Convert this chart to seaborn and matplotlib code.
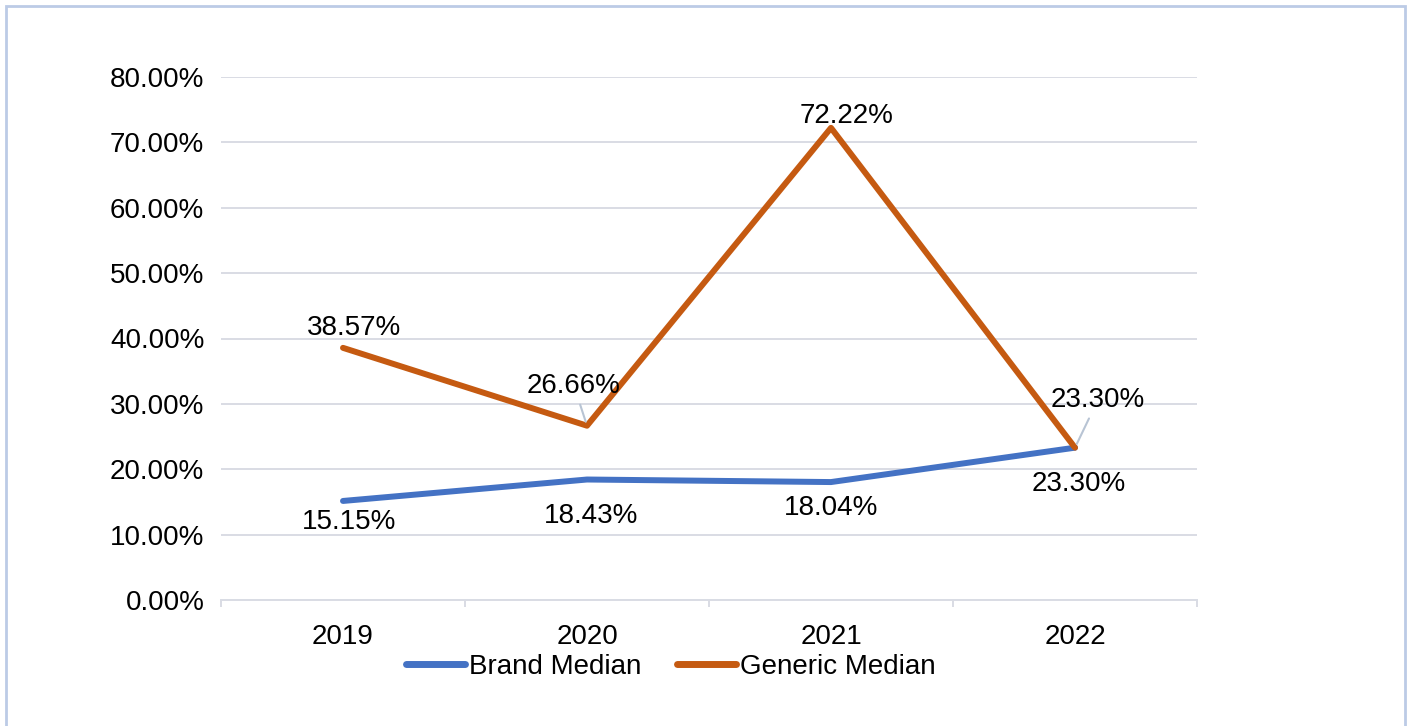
import pandas as pd
import seaborn as sns
import matplotlib.pyplot as plt
from matplotlib.patches import Rectangle
from matplotlib.ticker import FuncFormatter, FixedLocator

# chart values
years = ['2019', '2020', '2021', '2022']
brand_median = [0.1515, 0.1843, 0.1804, 0.2330]
generic_median = [0.3857, 0.2666, 0.7222, 0.2330]

df = pd.DataFrame({
    'Year': years * 2,
    'Value': brand_median + generic_median,
    'Series': ['Brand Median'] * 4 + ['Generic Median'] * 4,
})

sns.set_style('white')
plt.rcParams['font.family'] = ['Liberation Sans', 'DejaVu Sans']
plt.rcParams['text.color'] = 'black'
plt.rcParams['xtick.labelcolor'] = 'black'
plt.rcParams['ytick.labelcolor'] = 'black'

fig = plt.figure(figsize=(14.09, 7.26), dpi=100)
ax = fig.add_axes([221 / 1409, 1 - 600 / 726, 976 / 1409, 523 / 726])

colors = {'Brand Median': '#4472C4', 'Generic Median': '#C55A11'}
sns.lineplot(data=df, x='Year', y='Value', hue='Series', palette=colors,
             linewidth=4.3, sort=False, ax=ax, legend=False,
             solid_capstyle='round', solid_joinstyle='round')

ax.set_xlim(-0.5, 3.5)
ax.set_ylim(0, 0.8)
ax.set_yticks([i / 10 for i in range(9)])
ax.yaxis.set_major_formatter(FuncFormatter(lambda v, _: f'{v * 100:.2f}%'))
ax.set_xlabel('')
ax.set_ylabel('')
ax.grid(axis='y', color='#d9dce4', linewidth=1.4)
ax.set_axisbelow(True)
for s in ['top', 'right', 'left']:
    ax.spines[s].set_visible(False)
ax.spines['bottom'].set_color('#d9dce4')
ax.spines['bottom'].set_linewidth(1.4)
ax.tick_params(axis='y', length=0, pad=12, labelsize=20)
ax.tick_params(axis='x', which='major', length=0, pad=17, labelsize=20)
ax.xaxis.set_minor_locator(FixedLocator([-0.5, 0.5, 1.5, 2.5, 3.5]))
ax.tick_params(axis='x', which='minor', bottom=True, length=5, width=1.4,
               color='#d9dce4', direction='out')

# data labels (offsets in pixels)
brand_off = [(6, -21), (4, -36), (0, -26), (4, -36)]
generic_off = [(11, 20), (-13, 40), (16, 12), (23, 48)]
leader = {1, 3}
for i, (v, off) in enumerate(zip(brand_median, brand_off)):
    ax.annotate(f'{v * 100:.2f}%', (i, v), xytext=off, textcoords='offset pixels',
                ha='center', va='center', fontsize=20)
for i, (v, off) in enumerate(zip(generic_median, generic_off)):
    kw = {}
    if i in leader:
        kw['arrowprops'] = dict(arrowstyle='-', color='#b8c4d4', lw=1.5,
                                shrinkA=2, shrinkB=3)
    ax.annotate(f'{v * 100:.2f}%', (i, v), xytext=off, textcoords='offset pixels',
                ha='center', va='center', fontsize=20, **kw)

handles = [plt.Line2D([], [], color=colors[k], linewidth=5,
                      solid_capstyle='round') for k in colors]
fig.legend(handles, list(colors), loc='center', ncol=2, frameon=False,
           bbox_to_anchor=(671 / 1409, 1 - 667 / 726), fontsize=20,
           handlelength=2.1, handletextpad=0.15, columnspacing=1.3)

# outer chart frame
fig.patches.append(Rectangle((6 / 1409, -0.05), 1399 / 1409, 1.05 - 6 / 726,
                             transform=fig.transFigure, fill=False,
                             edgecolor='#bccbe6', linewidth=2))

fig.savefig('out.png', dpi=100)
